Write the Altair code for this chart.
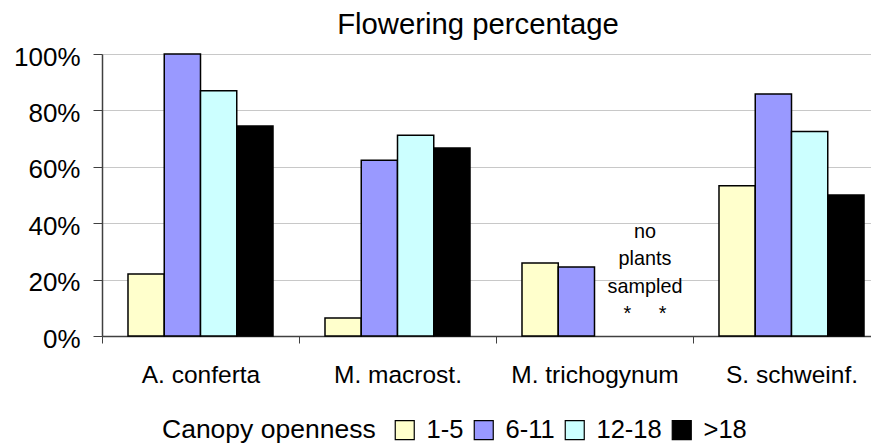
import altair as alt
import pandas as pd

species = ["A. conferta", "M. macrost.", "M. trichogynum", "S. schweinf."]
groups = ["1-5", "6-11", "12-18", ">18"]
colors = ["#FFFFCC", "#9999FF", "#CCFFFF", "#000000"]

vals_1_5 = [0.22, 0.064, 0.259, 0.533]
vals_6_11 = [1.0, 0.623, 0.245, 0.858]
vals_12_18 = [0.87, 0.712, None, 0.725]
vals_gt18 = [0.745, 0.667, None, 0.50]

note_species = "M. trichogynum"
note_lines = ["no", "plants", "sampled", "*\u00a0\u00a0\u00a0\u00a0\u00a0*"]

y_ticks = [0, 0.2, 0.4, 0.6, 0.8, 1.0]

rows = []
for g, vals in zip(groups, [vals_1_5, vals_6_11, vals_12_18, vals_gt18]):
    for s, v in zip(species, vals):
        if v is not None:
            rows.append({"species": s, "group": g, "value": v})
df = pd.DataFrame(rows)

note_df = pd.DataFrame([{"species": note_species, "note": "\n".join(note_lines)}])

FONT = "Liberation Sans"

x_enc = alt.X(
    "species:N",
    sort=species,
    scale=alt.Scale(domain=species, range=[0, 788], paddingInner=0, paddingOuter=0),
    axis=alt.Axis(
        title=None,
        tickBand="extent",
        tickSize=7,
        tickColor="#404040",
        domainColor="#404040",
        domainWidth=1.5,
        labelFontSize=24.5,
        labelColor="black",
        labelPadding=20,
        labelFont=FONT,
        labelAngle=0,
        grid=False,
    ),
)

bars = alt.Chart(df).mark_bar(stroke="black", strokeWidth=1.5).encode(
    x=x_enc,
    xOffset=alt.XOffset(
        "group:N",
        sort=groups,
        scale=alt.Scale(domain=groups, paddingInner=0, paddingOuter=0.717),
    ),
    y=alt.Y(
        "value:Q",
        scale=alt.Scale(domain=[0, 1], nice=False),
        axis=alt.Axis(
            title=None,
            values=y_ticks,
            format=".0%",
            tickSize=9,
            tickColor="#404040",
            domainColor="#404040",
            domainWidth=1.5,
            labelFontSize=26,
            labelColor="black",
            labelPadding=13,
            labelOffset=3,
            labelFont=FONT,
            grid=True,
            gridColor="#c8c8c8",
        ),
    ),
    color=alt.Color(
        "group:N",
        sort=groups,
        scale=alt.Scale(domain=groups, range=colors),
        legend=alt.Legend(
            title="Canopy openness",
            orient="none",
            legendX=60,
            legendY=363,
            direction="horizontal",
            titleOrient="left",
            titleFontSize=26.5,
            titleFontWeight="normal",
            titleColor="black",
            titleFont=FONT,
            titlePadding=16,
            titleBaseline="middle",
            titleLimit=500,
            labelFontSize=25.5,
            labelColor="black",
            labelFont=FONT,
            labelOffset=9,
            labelLimit=200,
            symbolType="square",
            symbolSize=361,
            symbolStrokeColor="black",
            symbolStrokeWidth=1.2,
            symbolOpacity=1,
            columnPadding=7,
        ),
    ),
)

note = alt.Chart(note_df).mark_text(
    font=FONT,
    fontSize=19.8,
    lineBreak="\n",
    lineHeight=27.6,
    baseline="middle",
    align="center",
    dx=50.5,
    color="black",
).encode(
    x=alt.X("species:N", sort=species),
    y=alt.datum(0.37),
    text="note:N",
)

chart = (
    alt.layer(bars, note)
    .properties(
        width=769,
        height=282,
        autosize=alt.AutoSizeParams(type="none"),
        padding={"left": 94, "top": 46, "right": 0, "bottom": 110},
        title=alt.TitleParams(
            "Flowering percentage",
            font=FONT,
            fontSize=29.3,
            fontWeight="normal",
            color="black",
            anchor="middle",
            dx=-8.5,
        ),
    )
    .configure_view(stroke=None)
)

chart.save("out.html", embed_options={"renderer": "svg", "actions": False})
